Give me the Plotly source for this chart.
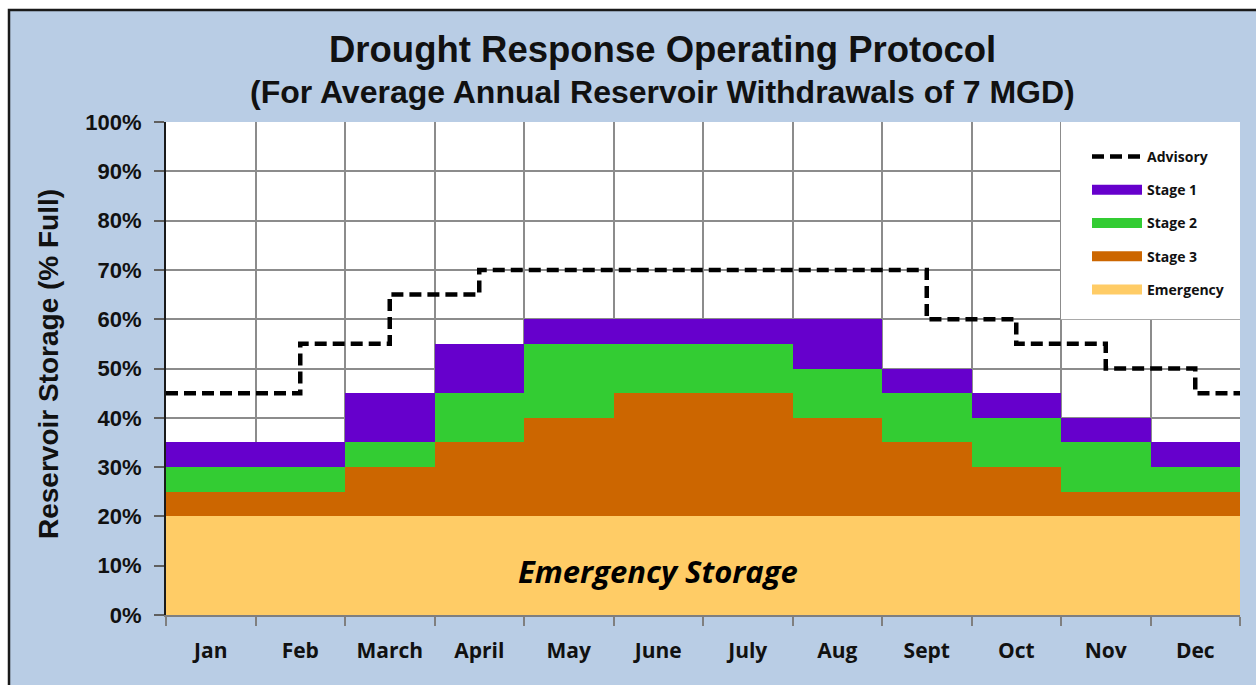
import plotly.graph_objects as go

# ---- data -------------------------------------------------------------
months = ["Jan", "Feb", "March", "April", "May", "June",
          "July", "Aug", "Sept", "Oct", "Nov", "Dec"]

# upper bound (% full) of each storage band, per month
emergency_top = [20, 20, 20, 20, 20, 20, 20, 20, 20, 20, 20, 20]
stage3_top = [25, 25, 30, 35, 40, 45, 45, 40, 35, 30, 25, 25]
stage2_top = [30, 30, 35, 45, 55, 55, 55, 50, 45, 40, 35, 30]
stage1_top = [35, 35, 45, 55, 60, 60, 60, 60, 50, 45, 40, 35]

# advisory trigger level, taking effect at the middle of each month
advisory = [45, 55, 65, 70, 70, 70, 70, 70, 60, 55, 50, 45]

y_ticks = [0, 10, 20, 30, 40, 50, 60, 70, 80, 90, 100]

# ---- styling ------------------------------------------------------------
C_EMERG = "#ffcc66"
C_S3 = "#cc6600"
C_S2 = "#33cc33"
C_S1 = "#6600cc"
BG = "#b9cde5"
GRID = "#8c8c8c"
ARIAL = "Liberation Sans, Arial"
SANS = "Open Sans"

W, H = 1256, 685
ML, MR, MT, MB = 166, 16, 122, 70
PW, PH = W - ML - MR, H - MT - MB


def px_x(x):
    return (x - ML) / PW


def px_y(y):
    return (H - MB - y) / PH


idx = list(range(len(months)))
zero = [0] * len(months)

fig = go.Figure()

bands = [
    ("Emergency", zero, emergency_top, C_EMERG),
    ("Stage 3", emergency_top, stage3_top, C_S3),
    ("Stage 2", stage3_top, stage2_top, C_S2),
    ("Stage 1", stage2_top, stage1_top, C_S1),
]
for name, lo, hi, col in bands:
    fig.add_trace(go.Bar(
        x=idx, y=[h - l for h, l in zip(hi, lo)], base=lo,
        width=1.0, marker=dict(color=col, line=dict(width=0)),
        name=name, legendgroup=name, showlegend=False,
    ))

# advisory stepped line spanning the full year
adv_x = [-0.5] + idx + [len(months) - 0.5]
adv_y = [advisory[0]] + advisory + [advisory[-1]]
fig.add_trace(go.Scatter(
    x=adv_x, y=adv_y, mode="lines", line_shape="hv",
    line=dict(color="black", width=4.5, dash="12px,6px"),
    name="Advisory", legendgroup="Advisory", showlegend=True,
))

# legend entries drawn as wide swatches
for name, col in [("Stage 1", C_S1), ("Stage 2", C_S2),
                  ("Stage 3", C_S3), ("Emergency", C_EMERG)]:
    fig.add_trace(go.Scatter(
        x=[None], y=[None], mode="lines",
        line=dict(color=col, width=14),
        name=name, legendgroup=name, showlegend=True,
    ))

fig.add_annotation(
    x=5, y=9, xref="x", yref="y", showarrow=False,
    text="<b><i>Emergency Storage</i></b>",
    font=dict(family=SANS, size=31, color="black"),
)

# titles
fig.add_annotation(
    x=px_x(662), y=px_y(50), xref="paper", yref="paper", showarrow=False,
    xanchor="center", yanchor="middle",
    text="<b>Drought Response Operating Protocol</b>",
    font=dict(family=ARIAL, size=36.5, color="#111111"),
)
fig.add_annotation(
    x=px_x(662), y=px_y(92), xref="paper", yref="paper", showarrow=False,
    xanchor="center", yanchor="middle",
    text="<b>(For Average Annual Reservoir Withdrawals of 7 MGD)</b>",
    font=dict(family=ARIAL, size=32, color="#111111"),
)
fig.add_annotation(
    x=px_x(48), y=px_y(364), xref="paper", yref="paper", showarrow=False,
    xanchor="center", yanchor="middle", textangle=-90,
    text="<b>Reservoir Storage (% Full)</b>",
    font=dict(family=ARIAL, size=28, color="#111111"),
)

shapes = [
    # white panel behind the legend
    dict(type="rect", xref="x", yref="y", x0=9.5, x1=11.5, y0=60, y1=100,
         fillcolor="white", line=dict(width=0), layer="above"),
    # outer frame
    dict(type="rect", xref="paper", yref="paper",
         x0=px_x(-20), x1=px_x(8), y0=px_y(H + 20), y1=px_y(-20),
         fillcolor="white", line=dict(width=0), layer="above"),
    dict(type="rect", xref="paper", yref="paper",
         x0=px_x(-20), x1=px_x(W + 20), y0=px_y(9), y1=px_y(-20),
         fillcolor="white", line=dict(width=0), layer="above"),
    dict(type="rect", xref="paper", yref="paper",
         x0=px_x(9), x1=px_x(W + 30), y0=px_y(H + 30), y1=px_y(10),
         fillcolor="rgba(0,0,0,0)", line=dict(color="#1a1a1a", width=2.5),
         layer="above"),
]

fig.update_layout(
    width=W, height=H,
    margin=dict(l=ML, r=MR, t=MT, b=MB),
    paper_bgcolor=BG, plot_bgcolor="white",
    barmode="overlay", bargap=0,
    shapes=shapes,
    showlegend=True,
    legend=dict(
        x=px_x(1087), y=px_y(141), xanchor="left", yanchor="top",
        bgcolor="rgba(0,0,0,0)", borderwidth=0,
        traceorder="grouped", tracegroupgap=12, itemwidth=50,
        font=dict(family=SANS, size=14, color="#111111", weight="bold"),
        itemclick=False, itemdoubleclick=False,
    ),
    xaxis=dict(
        range=[-0.5, len(months) - 0.5],
        tickmode="array", tickvals=idx, ticktext=[f"<b>{m}</b>" for m in months],
        ticks="", showgrid=False, zeroline=False,
        tickfont=dict(family=SANS, size=21, color="#111111"),
        ticklabelstandoff=16,
        showline=True, linecolor="#7f7f7f", linewidth=2,
        minor=dict(tick0=-0.5, dtick=1, ticks="outside", ticklen=9,
                   tickwidth=1.5, tickcolor="#7f7f7f",
                   showgrid=True, gridcolor=GRID, gridwidth=1.5),
    ),
    yaxis=dict(
        range=[0, 100], tickmode="array", tickvals=y_ticks,
        ticktext=[f"<b>{v}%</b>" for v in y_ticks],
        ticks="outside", ticklen=10, tickwidth=2, tickcolor="#5f5f5f",
        tickfont=dict(family=ARIAL, size=22, color="#111111"),
        ticklabelstandoff=8,
        showgrid=True, gridcolor=GRID, gridwidth=2, zeroline=False,
        showline=True, linecolor="#1a1a1a", linewidth=2,
    ),
)

fig.write_html("out.html")
